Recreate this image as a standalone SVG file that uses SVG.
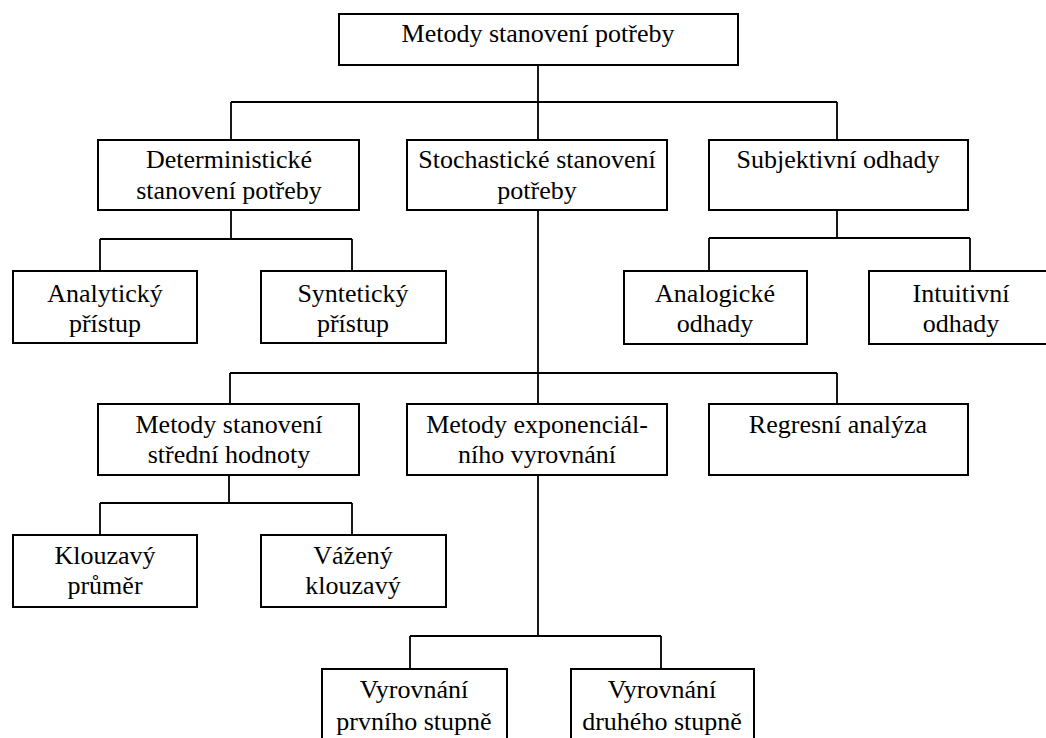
<svg xmlns="http://www.w3.org/2000/svg" width="1046" height="738" viewBox="0 0 1046 738">
<style>
.box{fill:#fff;stroke:#000;stroke-width:2}
.ln{fill:none;stroke:#000;stroke-width:1.8}
.t{font-family:'Liberation Serif','DejaVu Serif',serif;font-size:26px;fill:#000;text-anchor:middle}
</style>
<rect width="1046" height="738" fill="#fff"/>
<g id="connectors" class="ln">
<path d="M538 65V102M231 102H837M231 102V140M538 102V140M837 102V140"/>
<path d="M231 210V239M100 239H352M100 239V271M352 239V271"/>
<path d="M837 210V238M709 238H970M709 238V271M970 238V271"/>
<path d="M538 210V373M230 373H837M230 373V404M538 373V404M837 373V404"/>
<path d="M229 475V503M100 503H352M100 503V535M352 503V535"/>
<path d="M538 475V636M410 636H661M410 636V669M661 636V669"/>
</g>
<g class="t" font-family="Liberation Serif, DejaVu Serif, serif">
<g id="n-root"><rect class="box" x="339" y="14" width="399" height="51"/><text x="538" y="42">Metody stanovení potřeby</text></g>
<g id="n-det"><rect class="box" x="98" y="140" width="261" height="70"/><text x="229" y="168">Deterministické</text><text x="229" y="199">stanovení potřeby</text></g>
<g id="n-sto"><rect class="box" x="407" y="140" width="260" height="70"/><text x="537" y="168">Stochastické stanovení</text><text x="537" y="199">potřeby</text></g>
<g id="n-sub"><rect class="box" x="709" y="140" width="259" height="70"/><text x="838" y="168">Subjektivní odhady</text></g>
<g id="n-ana"><rect class="box" x="13" y="271" width="184" height="72"/><text x="105" y="302">Analytický</text><text x="105" y="332">přístup</text></g>
<g id="n-syn"><rect class="box" x="261" y="271" width="185" height="72"/><text x="353" y="302">Syntetický</text><text x="353" y="332">přístup</text></g>
<g id="n-analog"><rect class="box" x="624" y="271" width="183" height="73"/><text x="715" y="302">Analogické</text><text x="715" y="332">odhady</text></g>
<g id="n-int"><rect class="box" x="869" y="271" width="184" height="73"/><text x="961" y="302">Intuitivní</text><text x="961" y="332">odhady</text></g>
<g id="n-str"><rect class="box" x="98" y="404" width="261" height="71"/><text x="229" y="433">Metody stanovení</text><text x="229" y="463">střední hodnoty</text></g>
<g id="n-exp"><rect class="box" x="407" y="404" width="260" height="71"/><text x="537" y="433">Metody exponenciál-</text><text x="537" y="463">ního vyrovnání</text></g>
<g id="n-reg"><rect class="box" x="709" y="404" width="259" height="71"/><text x="838" y="433">Regresní analýza</text></g>
<g id="n-klo"><rect class="box" x="13" y="535" width="184" height="72"/><text x="105" y="564">Klouzavý</text><text x="105" y="594">průměr</text></g>
<g id="n-vaz"><rect class="box" x="261" y="535" width="185" height="72"/><text x="353" y="564">Vážený</text><text x="353" y="594">klouzavý</text></g>
<g id="n-v1"><rect class="box" x="322" y="669" width="185" height="80"/><text x="414" y="698">Vyrovnání</text><text x="414" y="730">prvního stupně</text></g>
<g id="n-v2"><rect class="box" x="571" y="669" width="183" height="80"/><text x="662" y="698">Vyrovnání</text><text x="662" y="730">druhého stupně</text></g>
</g>
</svg>
